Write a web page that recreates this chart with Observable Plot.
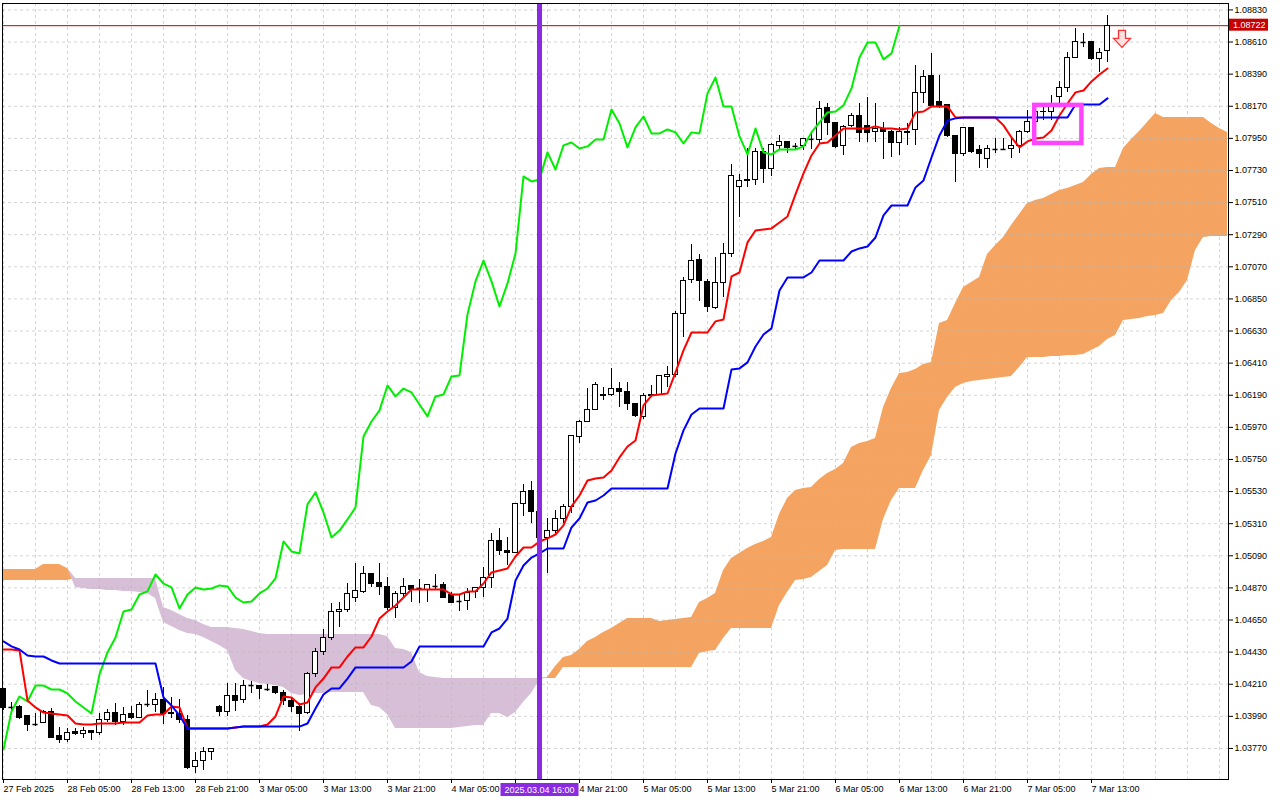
<!DOCTYPE html>
<html>
<head>
<meta charset="utf-8">
<script src="https://cdn.jsdelivr.net/npm/d3@7"></script>
<script src="https://cdn.jsdelivr.net/npm/@observablehq/plot@0.6"></script>
<style>
html, body { margin: 0; padding: 0; background: #fff; overflow: hidden; }
#chart svg { display: block; }
</style>
</head>
<body>
<div id="chart"></div>
<script>
// ---- EURUSD H1 candles (bar 0 = 27 Feb 2025 21:00) ----
const open = [
1.04174,1.04051,1.04057,1.03989,1.03934,1.03941,1.04023,1.03852,1.03831,1.03886,
1.03872,1.03893,1.03879,1.03962,1.04016,1.03948,1.04003,1.03982,1.04071,1.04071,
1.04105,1.04003,1.04003,1.03968,1.03640,1.03681,1.03749,1.04051,1.04023,1.04126,
1.04099,1.04201,1.04201,1.04174,1.04188,1.04147,1.04092,1.04057,1.04016,1.04277,
1.04428,1.04530,1.04708,1.04722,1.04798,1.04839,1.04962,1.04907,1.04873,1.04729,
1.04825,1.04880,1.04866,1.04859,1.04880,1.04887,1.04818,1.04777,1.04777,1.04839,
1.04866,1.04935,1.05188,1.05126,1.05106,1.05448,1.05537,1.05387,1.05215,1.05263,
1.05339,1.05421,1.05901,1.06010,1.06092,1.06195,1.06195,1.06236,1.06209,1.06127,
1.06038,1.06182,1.06195,1.06312,1.06326,1.06744,1.06983,1.07120,1.06963,1.06791,
1.06956,1.07161,1.07614,1.07655,1.07668,1.07854,1.07737,1.07895,1.07922,1.07895,
1.07895,1.07943,1.07936,1.08155,1.08052,1.07895,1.08032,1.08100,1.08032,1.07991,
1.08011,1.07997,1.07915,1.07997,1.08004,1.08258,1.08374,1.08196,1.08176,1.07963,
1.07840,1.08018,1.07867,1.07812,1.07874,1.07874,1.07874,1.07895,1.07991,1.08059,
1.08128,1.08128,1.08230,1.08292,1.08504,1.08607,1.08607,1.08491,1.08546];
const high = [
1.04181,1.04085,1.04064,1.03996,1.04009,1.04030,1.04044,1.03914,1.03907,1.03907,
1.03914,1.03893,1.04009,1.04037,1.04078,1.04051,1.04057,1.04085,1.04167,1.04147,
1.04188,1.04119,1.04105,1.03996,1.03742,1.03777,1.03770,1.04064,1.04215,1.04215,
1.04236,1.04229,1.04201,1.04208,1.04188,1.04167,1.04112,1.04078,1.04290,1.04455,
1.04585,1.04763,1.04770,1.04900,1.05037,1.05017,1.04969,1.05037,1.04941,1.04846,
1.04935,1.04880,1.04928,1.04887,1.04962,1.04907,1.04839,1.04818,1.04866,1.04866,
1.05010,1.05243,1.05277,1.05215,1.05442,1.05579,1.05599,1.05435,1.05346,1.05401,
1.05442,1.05914,1.06017,1.06236,1.06278,1.06243,1.06374,1.06278,1.06278,1.06134,
1.06202,1.06257,1.06326,1.06387,1.06764,1.06997,1.07223,1.07155,1.06983,1.07134,
1.07230,1.07771,1.07703,1.07881,1.07881,1.07881,1.07915,1.07970,1.07929,1.07915,
1.07949,1.07997,1.08203,1.08189,1.08052,1.08039,1.08121,1.08189,1.08230,1.08189,
1.08059,1.08004,1.08025,1.08052,1.08450,1.08415,1.08532,1.08381,1.08176,1.07970,
1.08025,1.08025,1.07902,1.07902,1.07949,1.07949,1.07956,1.08004,1.08141,1.08155,
1.08162,1.08244,1.08340,1.08539,1.08703,1.08669,1.08607,1.08566,1.08792];
const low = [
1.04030,1.04030,1.03968,1.03886,1.03920,1.03941,1.03845,1.03804,1.03811,1.03859,
1.03838,1.03825,1.03859,1.03948,1.03927,1.03927,1.03968,1.03982,1.04051,1.04016,
1.03934,1.03975,1.03941,1.03626,1.03598,1.03619,1.03687,1.03989,1.03989,1.04023,
1.04078,1.04147,1.04105,1.04160,1.04140,1.04064,1.04016,1.03886,1.04003,1.04256,
1.04407,1.04510,1.04599,1.04702,1.04770,1.04832,1.04873,1.04818,1.04715,1.04660,
1.04804,1.04770,1.04763,1.04770,1.04859,1.04798,1.04763,1.04708,1.04715,1.04798,
1.04804,1.04866,1.05092,1.05024,1.05106,1.05359,1.05311,1.05161,1.04969,1.05229,
1.05311,1.05380,1.05860,1.06004,1.06086,1.06154,1.06182,1.06106,1.06086,1.06038,
1.06024,1.06175,1.06188,1.06243,1.06312,1.06586,1.06956,1.06833,1.06757,1.06778,
1.06860,1.07134,1.07408,1.07614,1.07627,1.07641,1.07689,1.07867,1.07847,1.07867,
1.07867,1.07874,1.07915,1.07970,1.07881,1.07833,1.08025,1.07922,1.07922,1.07922,
1.07806,1.07819,1.07833,1.07902,1.07902,1.08189,1.08162,1.08155,1.07956,1.07648,
1.07826,1.07847,1.07744,1.07744,1.07847,1.07867,1.07812,1.07847,1.07984,1.08039,
1.08073,1.08073,1.08176,1.08265,1.08498,1.08573,1.08484,1.08402,1.08470];
const close = [
1.04044,1.04051,1.03982,1.03934,1.03934,1.04023,1.03845,1.03831,1.03879,1.03866,
1.03893,1.03879,1.03962,1.04016,1.03948,1.03996,1.03982,1.04071,1.04071,1.04099,
1.04003,1.04016,1.03968,1.03633,1.03681,1.03749,1.03763,1.04023,1.04126,1.04092,
1.04201,1.04201,1.04174,1.04174,1.04147,1.04092,1.04051,1.04009,1.04277,1.04428,
1.04530,1.04708,1.04722,1.04825,1.04846,1.04962,1.04900,1.04873,1.04729,1.04825,
1.04873,1.04859,1.04866,1.04887,1.04880,1.04804,1.04770,1.04777,1.04832,1.04866,
1.04935,1.05188,1.05120,1.05106,1.05442,1.05524,1.05387,1.05215,1.05263,1.05339,
1.05421,1.05908,1.06010,1.06086,1.06257,1.06182,1.06236,1.06209,1.06127,1.06045,
1.06182,1.06195,1.06319,1.06326,1.06744,1.06970,1.07113,1.06970,1.06798,1.06956,
1.07161,1.07689,1.07655,1.07668,1.07854,1.07737,1.07902,1.07922,1.07881,1.07895,
1.07943,1.07943,1.08148,1.08052,1.07888,1.08025,1.08100,1.07984,1.07984,1.08011,
1.07991,1.07915,1.07991,1.07984,1.08258,1.08367,1.08169,1.08169,1.07963,1.07840,
1.08018,1.07854,1.07840,1.07874,1.07874,1.07874,1.07895,1.07991,1.08059,1.08128,
1.08134,1.08176,1.08292,1.08504,1.08607,1.08607,1.08491,1.08532,1.08722];

// ---- Ichimoku lines ----
const tenkan = [
1.04448,1.04448,1.04441,1.04099,1.04051,1.04016,1.04009,1.04003,1.03996,1.03941,
1.03934,1.03934,1.03941,1.03941,1.03941,1.03948,1.03948,1.03948,1.03996,1.04003,
1.04003,1.04057,1.04051,1.03907,1.03907,1.03907,1.03907,1.03907,1.03907,1.03914,
1.03920,1.03920,1.03920,1.03934,1.03989,1.04126,1.04119,1.04071,1.04085,1.04188,
1.04249,1.04325,1.04325,1.04400,1.04462,1.04462,1.04537,1.04660,1.04708,1.04750,
1.04804,1.04859,1.04859,1.04859,1.04859,1.04859,1.04825,1.04825,1.04846,1.04846,
1.04900,1.04976,1.04989,1.05003,1.05085,1.05147,1.05147,1.05188,1.05209,1.05236,
1.05298,1.05428,1.05503,1.05606,1.05620,1.05627,1.05675,1.05764,1.05839,1.05880,
1.06120,1.06188,1.06195,1.06202,1.06346,1.06497,1.06620,1.06620,1.06620,1.06696,
1.06709,1.07004,1.07031,1.07237,1.07319,1.07326,1.07333,1.07374,1.07415,1.07566,
1.07710,1.07833,1.07915,1.07922,1.07970,1.08018,1.08018,1.08018,1.08018,1.08032,
1.08018,1.08018,1.08011,1.08018,1.08128,1.08134,1.08169,1.08169,1.08169,1.08093,
1.08093,1.08093,1.08093,1.08093,1.08093,1.08039,1.07956,1.07888,1.07929,1.07949,
1.07956,1.08004,1.08107,1.08189,1.08265,1.08278,1.08340,1.08388,1.08429];
const kijun = [
1.04503,1.04469,1.04448,1.04407,1.04400,1.04400,1.04373,1.04352,1.04352,1.04352,
1.04352,1.04352,1.04352,1.04352,1.04352,1.04352,1.04352,1.04352,1.04352,1.04352,
1.04119,1.04064,1.03996,1.03907,1.03907,1.03907,1.03907,1.03907,1.03907,1.03914,
1.03920,1.03920,1.03920,1.03920,1.03920,1.03920,1.03920,1.03920,1.03941,1.04044,
1.04140,1.04181,1.04181,1.04249,1.04325,1.04325,1.04325,1.04325,1.04325,1.04325,
1.04325,1.04366,1.04469,1.04469,1.04469,1.04469,1.04469,1.04469,1.04469,1.04469,
1.04469,1.04565,1.04592,1.04660,1.04921,1.05024,1.05078,1.05106,1.05140,1.05140,
1.05140,1.05284,1.05346,1.05455,1.05469,1.05503,1.05551,1.05551,1.05551,1.05551,
1.05551,1.05551,1.05551,1.05551,1.05791,1.05949,1.06058,1.06099,1.06099,1.06099,
1.06099,1.06367,1.06374,1.06415,1.06524,1.06606,1.06648,1.06908,1.06997,1.06997,
1.06997,1.07031,1.07113,1.07113,1.07113,1.07113,1.07175,1.07196,1.07209,1.07271,
1.07422,1.07490,1.07490,1.07490,1.07614,1.07662,1.07819,1.07970,1.08073,1.08087,
1.08093,1.08093,1.08093,1.08093,1.08093,1.08093,1.08093,1.08093,1.08093,1.08093,
1.08093,1.08093,1.08093,1.08093,1.08182,1.08182,1.08182,1.08182,1.08224];
const spanA = [
1.04996,1.04996,1.04996,1.04996,1.04996,1.05030,1.05030,1.05030,1.05003,1.04873,
1.04866,1.04859,1.04859,1.04852,1.04852,1.04846,1.04846,1.04839,1.04832,1.04798,
1.04633,1.04606,1.04578,1.04558,1.04551,1.04530,1.04503,1.04475,1.04441,1.04304,
1.04249,1.04229,1.04215,1.04208,1.04201,1.04188,1.04147,1.04133,1.04140,1.04147,
1.04147,1.04153,1.04153,1.04153,1.04153,1.04153,1.04064,1.04051,1.04003,1.03907,
1.03907,1.03907,1.03907,1.03907,1.03907,1.03907,1.03907,1.03914,1.03920,1.03927,
1.03927,1.04009,1.04009,1.03982,1.04016,1.04085,1.04147,1.04236,1.04256,1.04332,
1.04393,1.04407,1.04448,1.04503,1.04530,1.04565,1.04592,1.04626,1.04660,1.04660,
1.04660,1.04660,1.04640,1.04647,1.04654,1.04660,1.04667,1.04770,1.04798,1.04832,
1.04989,1.05072,1.05106,1.05140,1.05168,1.05188,1.05215,1.05373,1.05483,1.05537,
1.05551,1.05558,1.05613,1.05654,1.05681,1.05723,1.05832,1.05860,1.05873,1.05894,
1.06106,1.06236,1.06339,1.06346,1.06367,1.06401,1.06415,1.06682,1.06702,1.06819,
1.06929,1.06963,1.06997,1.07155,1.07216,1.07271,1.07353,1.07429,1.07504,1.07525,
1.07538,1.07566,1.07593,1.07607,1.07627,1.07648,1.07703,1.07744,1.07751,1.07751,
1.07881,1.07943,1.07997,1.08059,1.08121,1.08093,1.08093,1.08093,1.08093,1.08093,
1.08093,1.08052,1.08018,1.07991];
const spanB = [
1.04921,1.04921,1.04921,1.04921,1.04921,1.04921,1.04921,1.04921,1.04921,1.04935,
1.04935,1.04935,1.04935,1.04935,1.04935,1.04935,1.04935,1.04935,1.04935,1.04935,
1.04736,1.04715,1.04688,1.04660,1.04647,1.04619,1.04599,1.04599,1.04599,1.04592,
1.04585,1.04571,1.04558,1.04551,1.04551,1.04551,1.04551,1.04551,1.04551,1.04551,
1.04551,1.04551,1.04551,1.04551,1.04551,1.04551,1.04551,1.04551,1.04537,1.04455,
1.04448,1.04428,1.04290,1.04263,1.04256,1.04249,1.04249,1.04249,1.04249,1.04249,
1.04249,1.04249,1.04249,1.04249,1.04249,1.04249,1.04249,1.04249,1.04249,1.04249,
1.04325,1.04325,1.04325,1.04325,1.04325,1.04325,1.04325,1.04325,1.04325,1.04325,
1.04325,1.04325,1.04325,1.04325,1.04325,1.04325,1.04325,1.04421,1.04434,1.04441,
1.04523,1.04592,1.04592,1.04592,1.04592,1.04592,1.04592,1.04750,1.04839,1.04921,
1.04928,1.04941,1.04983,1.05024,1.05126,1.05133,1.05133,1.05133,1.05133,1.05133,
1.05339,1.05469,1.05551,1.05551,1.05551,1.05675,1.05777,1.06086,1.06175,1.06243,
1.06271,1.06284,1.06291,1.06298,1.06305,1.06312,1.06319,1.06380,1.06449,1.06449,
1.06449,1.06456,1.06456,1.06463,1.06463,1.06469,1.06497,1.06524,1.06572,1.06600,
1.06702,1.06709,1.06716,1.06730,1.06737,1.06750,1.06839,1.06894,1.06976,1.07182,
1.07271,1.07278,1.07278,1.07278];
const chikouShift = 26;

// ---- axes ----
// (the 4 Mar 13:00 label at bar 64 is covered by the line's time label in the reference)
const xTickBars = [0,8,16,24,32,40,48,56,64,72,80,88,96,104,112,120,128,136];
const xTickLabels = ["27 Feb 2025","28 Feb 05:00","28 Feb 13:00","28 Feb 21:00","3 Mar 05:00","3 Mar 13:00","3 Mar 21:00","4 Mar 05:00","","4 Mar 21:00","5 Mar 05:00","5 Mar 13:00","5 Mar 21:00","6 Mar 05:00","6 Mar 13:00","6 Mar 21:00","7 Mar 05:00","7 Mar 13:00"];
const gridBars = [0,4,8,12,16,20,24,28,32,36,40,44,48,52,56,60,64,68,72,76,80,84,88,92,96,100,104,108,112,116,120,124,128,132,136,140,144,148,152];
const yTicks = [1.03770,1.03990,1.04210,1.04430,1.04650,1.04870,1.05090,1.05310,1.05530,1.05750,1.05970,1.06190,1.06410,1.06630,1.06850,1.07070,1.07290,1.07510,1.07730,1.07950,1.08170,1.08390,1.08610,1.08830];

// ---- objects on the chart ----
const vlineBars = [67];
const vlineLabels = ["2025.03.04 16:00"];
const boxes = [{b1: 128.9, b2: 134.8, hi: 1.08176, lo: 1.07915}];
const signals = [{bar: 140, price: 1.08628}];

// ---- derived tables ----
const candles = close.map((c, i) => ({i, o: open[i], h: high[i], l: low[i], c}));
const bulls = candles.filter(d => d.c > d.o);
const bears = candles.filter(d => d.c < d.o);
const dojis = candles.filter(d => d.c === d.o);
const chikouData = close.slice(chikouShift).map((v, i) => ({i, v}));
const tenkanData = tenkan.map((v, i) => ({i, v}));
const kijunData = kijun.map((v, i) => ({i, v}));
const cloud = spanA.map((a, i) => ({i, a, b: spanB[i], top: Math.max(a, spanB[i])}));
const lastPrice = close[close.length - 1];
const labelOf = new Map(xTickBars.map((b, k) => [b, xTickLabels[k]]));

const FONT = "'Liberation Sans', Arial, sans-serif";
const arrowSymbol = {
  draw(ctx) {
    ctx.moveTo(-3.5, -9); ctx.lineTo(3.5, -9); ctx.lineTo(3.5, -1);
    ctx.lineTo(8.5, -1); ctx.lineTo(0, 8); ctx.lineTo(-8.5, -1);
    ctx.lineTo(-3.5, -1); ctx.closePath();
  }
};
const BW = 0.26;

const chart = Plot.plot({
  width: 1280, height: 800,
  marginLeft: 2, marginRight: 52, marginTop: 3, marginBottom: 21,
  x: {type: "linear", domain: [-0.125, 153.125]},
  y: {type: "linear", domain: [1.035573, 1.08874]},
  style: {fontFamily: FONT, fontSize: "9px", background: "#fff", color: "#000"},
  marks: [
    Plot.areaY(cloud, {x: "i", y1: "b", y2: "top", fill: "#f4a460"}),
    Plot.areaY(cloud, {x: "i", y1: "a", y2: "top", fill: "#d8bfd8"}),
    Plot.gridX(gridBars, {stroke: "#b8b8b8", strokeOpacity: 0.6, strokeDasharray: "3,3"}),
    Plot.gridY(yTicks, {stroke: "#b8b8b8", strokeOpacity: 0.6, strokeDasharray: "3,3"}),
    Plot.ruleY([lastPrice], {stroke: "#c00000", strokeWidth: 1}),
    Plot.ruleX(candles, {x: "i", y1: "l", y2: "h", stroke: "#000", strokeWidth: 1, shapeRendering: "crispEdges"}),
    Plot.rect(bulls, {x1: d => d.i - BW, x2: d => d.i + BW, y1: "o", y2: "c", fill: "#fff", stroke: "#000", strokeWidth: 1, shapeRendering: "crispEdges"}),
    Plot.rect(bears, {x1: d => d.i - BW, x2: d => d.i + BW, y1: "o", y2: "c", fill: "#000", stroke: "#000", strokeWidth: 1, shapeRendering: "crispEdges"}),
    Plot.ruleY(dojis, {y: "o", x1: d => d.i - BW - 0.06, x2: d => d.i + BW + 0.06, stroke: "#000", strokeWidth: 1.5}),
    Plot.line(chikouData, {x: "i", y: "v", stroke: "#00ee00", strokeWidth: 2}),
    Plot.line(tenkanData, {x: "i", y: "v", stroke: "#ff0000", strokeWidth: 2}),
    Plot.line(kijunData, {x: "i", y: "v", stroke: "#0000ff", strokeWidth: 2}),
    Plot.rect(boxes, {x1: "b1", x2: "b2", y1: "lo", y2: "hi", fill: "none", stroke: "#ff44ff", strokeWidth: 4.5}),
    Plot.dot(signals, {x: "bar", y: "price", symbol: arrowSymbol, r: 8, fill: "#ffe0e0", stroke: "#ff3030", strokeWidth: 1.3, dx: -1.5}),
    Plot.ruleX(vlineBars, {x: d => d, stroke: "#8a2be2", strokeWidth: 5}),
    Plot.axisY(yTicks, {anchor: "right", tickSize: 4, tickPadding: 2, tickFormat: d3.format(".5f"), fontSize: 9}),
    Plot.axisX(xTickBars, {anchor: "bottom", tickSize: 4, tickPadding: 2, tickFormat: d => labelOf.get(d), textAnchor: "start", fontSize: 9}),
    Plot.frame({stroke: "#000"})
  ]
});
document.getElementById("chart").appendChild(chart);

// price label and time label on the axes
const xs = chart.scale("x"), ys = chart.scale("y");
const svg = d3.select(chart);
const g = svg.append("g").attr("font-family", FONT).attr("font-size", 9);
const yp = ys.apply(lastPrice);
const axRight = 1280 - 52;
g.append("rect").attr("x", axRight + 1).attr("y", yp - 6.5).attr("width", 39).attr("height", 12).attr("fill", "#c80000");
g.append("text").attr("x", axRight + 5).attr("y", yp + 3).attr("text-anchor", "start").attr("fill", "#fff").text(d3.format(".5f")(lastPrice));
vlineBars.forEach((b, k) => {
  const xv = xs.apply(b) + 0.5;
  g.append("rect").attr("x", xv - 39).attr("y", 783).attr("width", 78).attr("height", 13).attr("fill", "#8a2be2");
  g.append("text").attr("x", xv).attr("y", 793).attr("text-anchor", "middle").attr("fill", "#fff").text(vlineLabels[k]);
});
</script>
</body>
</html>
